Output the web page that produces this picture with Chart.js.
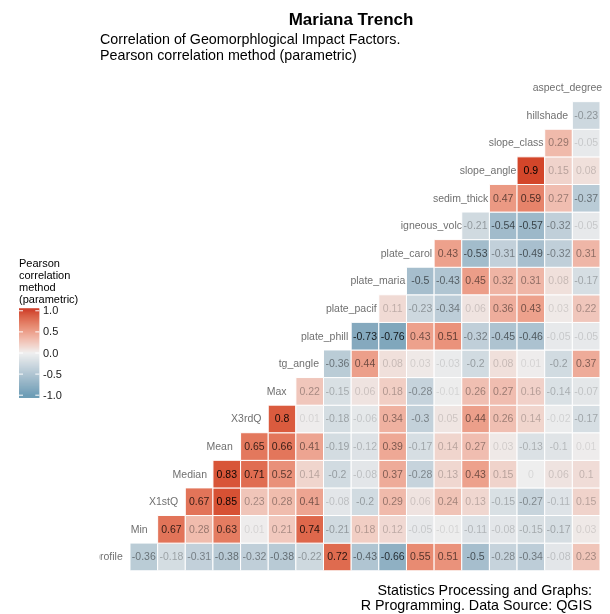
<!DOCTYPE html>
<html>
<head>
<meta charset="utf-8">
<script src="https://cdn.jsdelivr.net/npm/chart.js@4/dist/chart.umd.min.js"></script>
<style>
html, body { margin: 0; padding: 0; background: #fff; }
canvas { display: block; }
</style>
</head>
<body>
<canvas id="corrChart" width="610" height="614"></canvas>
<script>
// variables, bottom to top (and left to right)
var vars = ['profile','Min','X1stQ','Median','Mean','X3rdQ','Max','tg_angle','plate_phill',
  'plate_pacif','plate_maria','plate_carol','igneous_volc','sedim_thick','slope_angle',
  'slope_class','hillshade','aspect_degree'];

// each row: correlation of that variable with every variable after it
var r_profile = [-0.36,-0.18,-0.31,-0.38,-0.32,-0.38,-0.22,0.72,-0.43,-0.66,0.55,0.51,-0.5,-0.28,-0.34,-0.08,0.23];
var r_Min = [0.67,0.28,0.63,0.01,0.21,0.74,-0.21,0.18,0.12,-0.05,-0.01,-0.11,-0.08,-0.15,-0.17,0.03];
var r_X1stQ = [0.67,0.85,0.23,0.28,0.41,-0.08,-0.2,0.29,0.06,0.24,0.13,-0.15,-0.27,-0.11,0.15];
var r_Median = [0.83,0.71,0.52,0.14,-0.2,-0.08,0.37,-0.28,0.13,0.43,0.15,0,0.06,0.1];
var r_Mean = [0.65,0.66,0.41,-0.19,-0.12,0.39,-0.17,0.14,0.27,0.03,-0.13,-0.1,0.01];
var r_X3rdQ = [0.8,0.01,-0.18,-0.06,0.34,-0.3,0.05,0.44,0.26,0.14,-0.02,-0.17];
var r_Max = [0.22,-0.15,0.06,0.18,-0.28,-0.01,0.26,0.27,0.16,-0.14,-0.07];
var r_tg_angle = [-0.36,0.44,0.08,0.03,-0.03,-0.2,0.08,0.01,-0.2,0.37];
var r_plate_phill = [-0.73,-0.76,0.43,0.51,-0.32,-0.45,-0.46,-0.05,-0.05];
var r_plate_pacif = [0.11,-0.23,-0.34,0.06,0.36,0.43,0.03,0.22];
var r_plate_maria = [-0.5,-0.43,0.45,0.32,0.31,0.08,-0.17];
var r_plate_carol = [0.43,-0.53,-0.31,-0.49,-0.32,0.31];
var r_igneous_volc = [-0.21,-0.54,-0.57,-0.32,-0.05];
var r_sedim_thick = [0.47,0.59,0.27,-0.37];
var r_slope_angle = [0.9,0.15,0.08];
var r_slope_class = [0.29,-0.05];
var r_hillshade = [-0.23];

var rows = [r_profile,r_Min,r_X1stQ,r_Median,r_Mean,r_X3rdQ,r_Max,r_tg_angle,r_plate_phill,
  r_plate_pacif,r_plate_maria,r_plate_carol,r_igneous_volc,r_sedim_thick,r_slope_angle,
  r_slope_class,r_hillshade];

var legendTicks = [1.0, 0.5, 0.0, -0.5, -1.0];
var legendTickLabels = ['1.0', '0.5', '0.0', '-0.5', '-1.0'];

var LOW = '#5B91AD', MID = '#EEEEEE', HIGH = '#CB2C14';
var FONT = '"Liberation Sans", Arial, Helvetica, sans-serif';

// colour scale, interpolated in Lab like ggplot's gradient2
function hexToRgb(h) {
  return [parseInt(h.substr(1,2),16), parseInt(h.substr(3,2),16), parseInt(h.substr(5,2),16)];
}
function toLin(c) { c /= 255; return c <= 0.04045 ? c/12.92 : Math.pow((c+0.055)/1.055, 2.4); }
function fromLin(c) {
  c = c <= 0.0031308 ? 12.92*c : 1.055*Math.pow(c, 1/2.4) - 0.055;
  return Math.round(Math.max(0, Math.min(1, c)) * 255);
}
function rgbToLab(rgb) {
  var r = toLin(rgb[0]), g = toLin(rgb[1]), b = toLin(rgb[2]);
  var x = (0.4124*r + 0.3576*g + 0.1805*b) / 0.95047;
  var y = (0.2126*r + 0.7152*g + 0.0722*b);
  var z = (0.0193*r + 0.1192*g + 0.9505*b) / 1.08883;
  function f(t) { return t > 0.008856 ? Math.cbrt(t) : 7.787*t + 16/116; }
  var fx = f(x), fy = f(y), fz = f(z);
  return [116*fy - 16, 500*(fx - fy), 200*(fy - fz)];
}
function labToRgb(lab) {
  var fy = (lab[0] + 16)/116, fx = fy + lab[1]/500, fz = fy - lab[2]/200;
  function fi(t) { return t > 0.206893 ? t*t*t : (t - 16/116)/7.787; }
  var x = fi(fx)*0.95047, y = fi(fy), z = fi(fz)*1.08883;
  var r = 3.2406*x - 1.5372*y - 0.4986*z;
  var g = -0.9689*x + 1.8758*y + 0.0415*z;
  var b = 0.0557*x - 0.2040*y + 1.0570*z;
  return [fromLin(r), fromLin(g), fromLin(b)];
}
var labLow = rgbToLab(hexToRgb(LOW)), labMid = rgbToLab(hexToRgb(MID)), labHigh = rgbToLab(hexToRgb(HIGH));
function colourFor(v) {
  v = Math.max(-1, Math.min(1, v));
  var end = v >= 0 ? labHigh : labLow, t = Math.abs(v);
  var lab = [0,1,2].map(function(k) { return labMid[k] + (end[k] - labMid[k]) * t; });
  var c = labToRgb(lab);
  return 'rgb(' + c[0] + ',' + c[1] + ',' + c[2] + ')';
}

// build tile points: row i has its label at column i+1 and tiles to the right
var cells = [];
rows.forEach(function(vals, i) {
  vals.forEach(function(v, j) {
    cells.push({ x: i + j + 2, y: i + 1, v: v });
  });
});

function cellSize(chart) {
  var a = chart.chartArea;
  if (!a) return 20;
  return (a.right - a.left) / vars.length;
}

var textPlugin = {
  id: 'corrText',
  afterDatasetsDraw: function(chart) {
    var ctx = chart.ctx;
    var meta = chart.getDatasetMeta(0);
    var data = chart.data.datasets[0].data;
    ctx.save();
    ctx.font = '10.5px ' + FONT;
    ctx.textAlign = 'center';
    ctx.textBaseline = 'middle';
    meta.data.forEach(function(pt, k) {
      var v = data[k].v;
      var alpha = Math.min(1, 0.1 + Math.abs(v));
      ctx.fillStyle = 'rgba(0,0,0,' + alpha.toFixed(3) + ')';
      ctx.fillText(String(v), pt.x, pt.y + 0.5);
    });

    // variable names on the diagonal
    var xs = chart.scales.x, ys = chart.scales.y;
    ctx.beginPath();
    ctx.rect(99.5, 0, chart.width, chart.height);
    ctx.clip();
    ctx.fillStyle = '#707070';
    ctx.textAlign = 'left';
    vars.forEach(function(name, i) {
      var cx = xs.getPixelForValue(i + 1), cy = ys.getPixelForValue(i + 1);
      var w = ctx.measureText(name).width;
      ctx.fillText(name, cx - 0.77 * w, cy + 0.5);
    });
    ctx.restore();
  },
  afterDraw: function(chart) {
    var ctx = chart.ctx;
    ctx.save();
    ctx.fillStyle = '#000';
    ctx.textBaseline = 'alphabetic';
    ctx.font = 'bold 17px ' + FONT;
    ctx.textAlign = 'center';
    ctx.fillText('Mariana Trench', 351, 25);
    ctx.font = '14.3px ' + FONT;
    ctx.textAlign = 'left';
    ctx.fillText('Correlation of Geomorphlogical Impact Factors.', 100, 44);
    ctx.fillText('Pearson correlation method (parametric)', 100, 60);
    ctx.textAlign = 'right';
    ctx.fillText('Statistics Processing and Graphs:', 592, 595);
    ctx.fillText('R Programming. Data Source: QGIS', 592, 609.5);

    // colour bar legend
    ctx.font = '11px ' + FONT;
    ctx.textAlign = 'left';
    ['Pearson', 'correlation', 'method', '(parametric)'].forEach(function(t, k) {
      ctx.fillText(t, 19, 267 + k * 12);
    });
    var bx = 19, bw = 20.3, top = 308.3, bottom = 397.7, mid = 353, unit = 42.2;
    for (var y = top; y < bottom; y += 1) {
      ctx.fillStyle = colourFor((mid - (y + 0.5)) / unit);
      ctx.fillRect(bx, y, bw, Math.min(1, bottom - y) + 0.3);
    }
    ctx.strokeStyle = '#ffffff';
    ctx.lineWidth = 1;
    ctx.textBaseline = 'middle';
    legendTicks.forEach(function(v, k) {
      var ty = mid - v * unit;
      ctx.beginPath();
      ctx.moveTo(bx, ty); ctx.lineTo(bx + 4, ty);
      ctx.moveTo(bx + bw - 4, ty); ctx.lineTo(bx + bw, ty);
      ctx.stroke();
      ctx.fillStyle = '#1a1a1a';
      ctx.fillText(legendTickLabels[k], 43, ty + 0.5);
    });
    ctx.restore();
  }
};

new Chart(document.getElementById('corrChart'), {
  type: 'scatter',
  data: {
    datasets: [{
      data: cells,
      pointStyle: 'rect',
      pointRadius: function(c) { return cellSize(c.chart) / Math.SQRT2; },
      pointHoverRadius: function(c) { return cellSize(c.chart) / Math.SQRT2; },
      backgroundColor: function(c) { return c.raw ? colourFor(c.raw.v) : MID; },
      borderColor: '#ffffff',
      borderWidth: 1
    }]
  },
  options: {
    responsive: false,
    animation: false,
    events: [],
    layout: { autoPadding: false, padding: { left: 102.35, right: 10, top: 74.1, bottom: 43.3 } },
    scales: {
      x: { type: 'linear', min: 0.5, max: 18.5, display: false },
      y: { type: 'linear', min: 0.5, max: 18.5, display: false }
    },
    plugins: { legend: { display: false }, tooltip: { enabled: false }, title: { display: false } }
  },
  plugins: [textPlugin]
});
</script>
</body>
</html>
